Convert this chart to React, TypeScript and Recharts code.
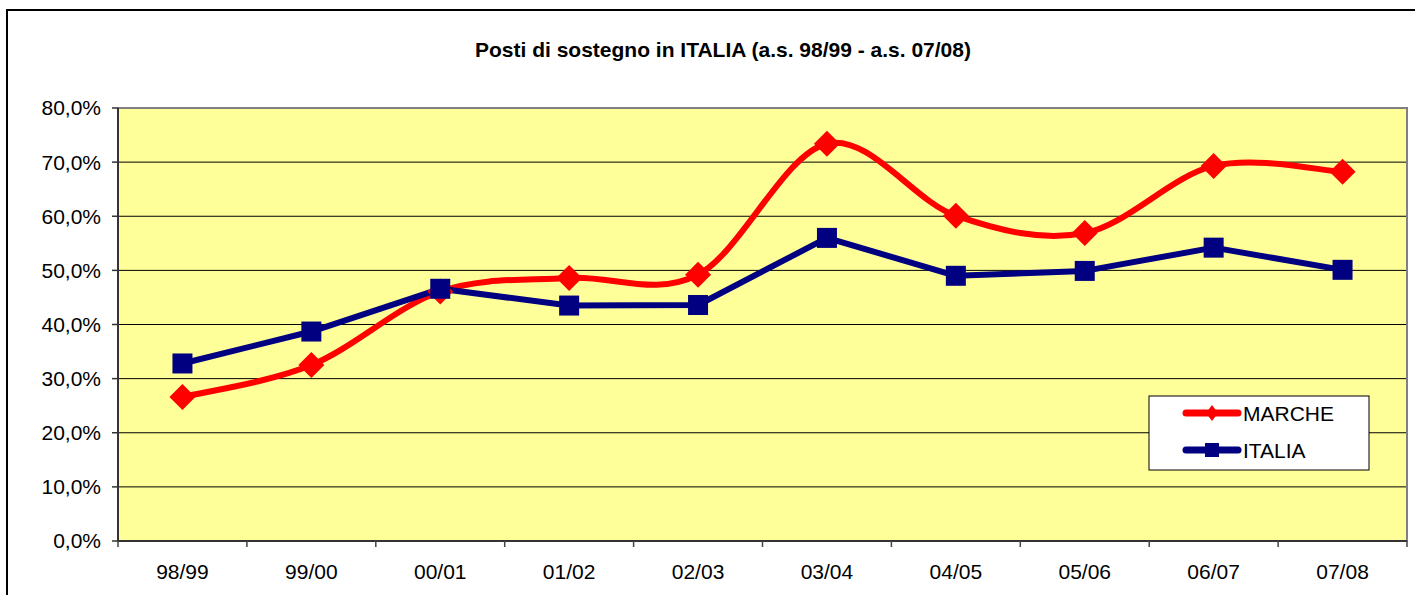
import { LineChart, Line, XAxis, YAxis, CartesianGrid, ReferenceArea } from 'recharts';

const YEARS = ['98/99', '99/00', '00/01', '01/02', '02/03', '03/04', '04/05', '05/06', '06/07', '07/08'];
const MARCHE = [26.6, 32.5, 46.1, 48.6, 49.2, 73.4, 60.1, 56.9, 69.3, 68.2];
const ITALIA = [32.8, 38.7, 46.6, 43.5, 43.6, 56.0, 49.0, 49.9, 54.2, 50.1];
const Y_TICKS = [0, 10, 20, 30, 40, 50, 60, 70, 80];
const TITLE = 'Posti di sostegno in ITALIA (a.s. 98/99 - a.s. 07/08)';

const FONT = '"Liberation Sans", Arial, sans-serif';
const RED = '#FF0000';
const NAVY = '#000080';

// one row per school year, placed at the middle of its slot on a 0..10 axis
const rows = YEARS.map((year, i) => ({ pos: i + 0.5, year, marche: MARCHE[i], italia: ITALIA[i] }));
// slot edges (tick marks) and slot centres (labels)
const X_TICKS = Array.from({ length: YEARS.length * 2 + 1 }, (_, i) => i / 2);

// Excel-like smoothing: cubic bezier through the points, Catmull-Rom tangents
function excelSmooth(context: any) {
  let pts: number[][] = [];
  return {
    areaStart() {},
    areaEnd() {},
    lineStart() { pts = []; },
    point(x: number, y: number) { pts.push([+x, +y]); },
    lineEnd() {
      if (!pts.length) return;
      context.moveTo(pts[0][0], pts[0][1]);
      for (let i = 0; i < pts.length - 1; i++) {
        const p0 = pts[i - 1] ?? pts[i];
        const p1 = pts[i];
        const p2 = pts[i + 1];
        const p3 = pts[i + 2] ?? p2;
        context.bezierCurveTo(
          p1[0] + (p2[0] - p0[0]) / 6, p1[1] + (p2[1] - p0[1]) / 6,
          p2[0] - (p3[0] - p1[0]) / 6, p2[1] - (p3[1] - p1[1]) / 6,
          p2[0], p2[1],
        );
      }
    },
  };
}

function Diamond({ cx, cy, index }: any) {
  if (cx == null || cy == null) return <g key={index} />;
  const r = 13;
  return <path key={index} d={`M${cx},${cy - r}L${cx + r},${cy}L${cx},${cy + r}L${cx - r},${cy}Z`} fill={RED} />;
}

function Square({ cx, cy, index }: any) {
  if (cx == null || cy == null) return <g key={index} />;
  return <rect key={index} x={cx - 10} y={cy - 10} width={20} height={20} fill={NAVY} />;
}

function XTick({ x, y, payload }: any) {
  const v = payload.value;
  if (Number.isInteger(v))
    return <line x1={x} x2={x} y1={y} y2={y + 6} stroke="#444" strokeWidth={1.5} />;
  return (
    <text x={x} y={y + 38} textAnchor="middle" fontSize={21} fill="#000" fontFamily={FONT}>
      {YEARS[Math.floor(v)]}
    </text>
  );
}

function LegendBox() {
  const items = [
    { name: 'MARCHE', color: RED, cy: 18, marker: 'diamond' },
    { name: 'ITALIA', color: NAVY, cy: 55, marker: 'square' },
  ];
  return (
    <svg width={222} height={76} style={{ position: 'absolute', left: 1148, top: 395 }}>
      <rect x={1} y={1} width={220} height={74} fill="#fff" stroke="#000" strokeWidth={1} />
      {items.map((it) => (
        <g key={it.name}>
          <line x1={38} x2={90} y1={it.cy} y2={it.cy} stroke={it.color} strokeWidth={7} strokeLinecap="round" />
          {it.marker === 'diamond' ? (
            <path d={`M64,${it.cy - 8}L70,${it.cy}L64,${it.cy + 8}L58,${it.cy}Z`} fill={it.color} />
          ) : (
            <rect x={57} y={it.cy - 7} width={14} height={14} fill={it.color} />
          )}
          <text x={95} y={it.cy + 7.5} fontSize={21} fontFamily={FONT} fill="#000">{it.name}</text>
        </g>
      ))}
    </svg>
  );
}

export default function App() {
  return (
    <div style={{ position: 'fixed', left: 0, top: 0, width: 1415, height: 595, background: '#fff', overflow: 'hidden', fontFamily: FONT }}>
      <div style={{ position: 'absolute', left: 6, top: 9, width: 1500, height: 700, borderLeft: '2px solid #000', borderTop: '2px solid #000' }} />
      <div style={{ position: 'absolute', left: 423, top: 39, width: 600, textAlign: 'center', fontSize: 21, fontWeight: 'bold', lineHeight: 1, color: '#000' }}>
        {TITLE}
      </div>
      <div style={{ position: 'absolute', left: 0, top: 0 }}>
        <LineChart width={1415} height={595} data={rows} margin={{ top: 108, right: 8, bottom: 0, left: 0 }}>
          <CartesianGrid vertical={false} stroke="#000" strokeWidth={1} fill="#FFFF99" fillOpacity={1} />
          <ReferenceArea x1={0} x2={10} y1={0} y2={80} fill="none" stroke="#808080" strokeWidth={2} />
          <XAxis
            type="number"
            dataKey="pos"
            domain={[0, 10]}
            ticks={X_TICKS}
            interval={0}
            tick={<XTick />}
            tickLine={false}
            tickSize={0}
            tickMargin={0}
            height={54}
            axisLine={{ stroke: '#333', strokeWidth: 2 }}
          />
          <YAxis
            domain={[0, 80]}
            ticks={Y_TICKS}
            interval={0}
            width={118}
            tickSize={6}
            tickMargin={11}
            tickFormatter={(v: number) => `${v.toFixed(1).replace('.', ',')}%`}
            tick={{ fontSize: 21, fill: '#000', fontFamily: FONT }}
            tickLine={{ stroke: '#333', strokeWidth: 1.5 }}
            axisLine={{ stroke: '#333', strokeWidth: 2 }}
          />
          <Line
            dataKey="marche"
            type={excelSmooth as any}
            stroke={RED}
            strokeWidth={6}
            strokeLinecap="round"
            dot={(p: any) => <Diamond {...p} key={p.index} />}
            activeDot={false}
            isAnimationActive={false}
          />
          <Line
            dataKey="italia"
            type="linear"
            stroke={NAVY}
            strokeWidth={6}
            strokeLinejoin="round"
            dot={(p: any) => <Square {...p} key={p.index} />}
            activeDot={false}
            isAnimationActive={false}
          />
        </LineChart>
      </div>
      <LegendBox />
    </div>
  );
}
